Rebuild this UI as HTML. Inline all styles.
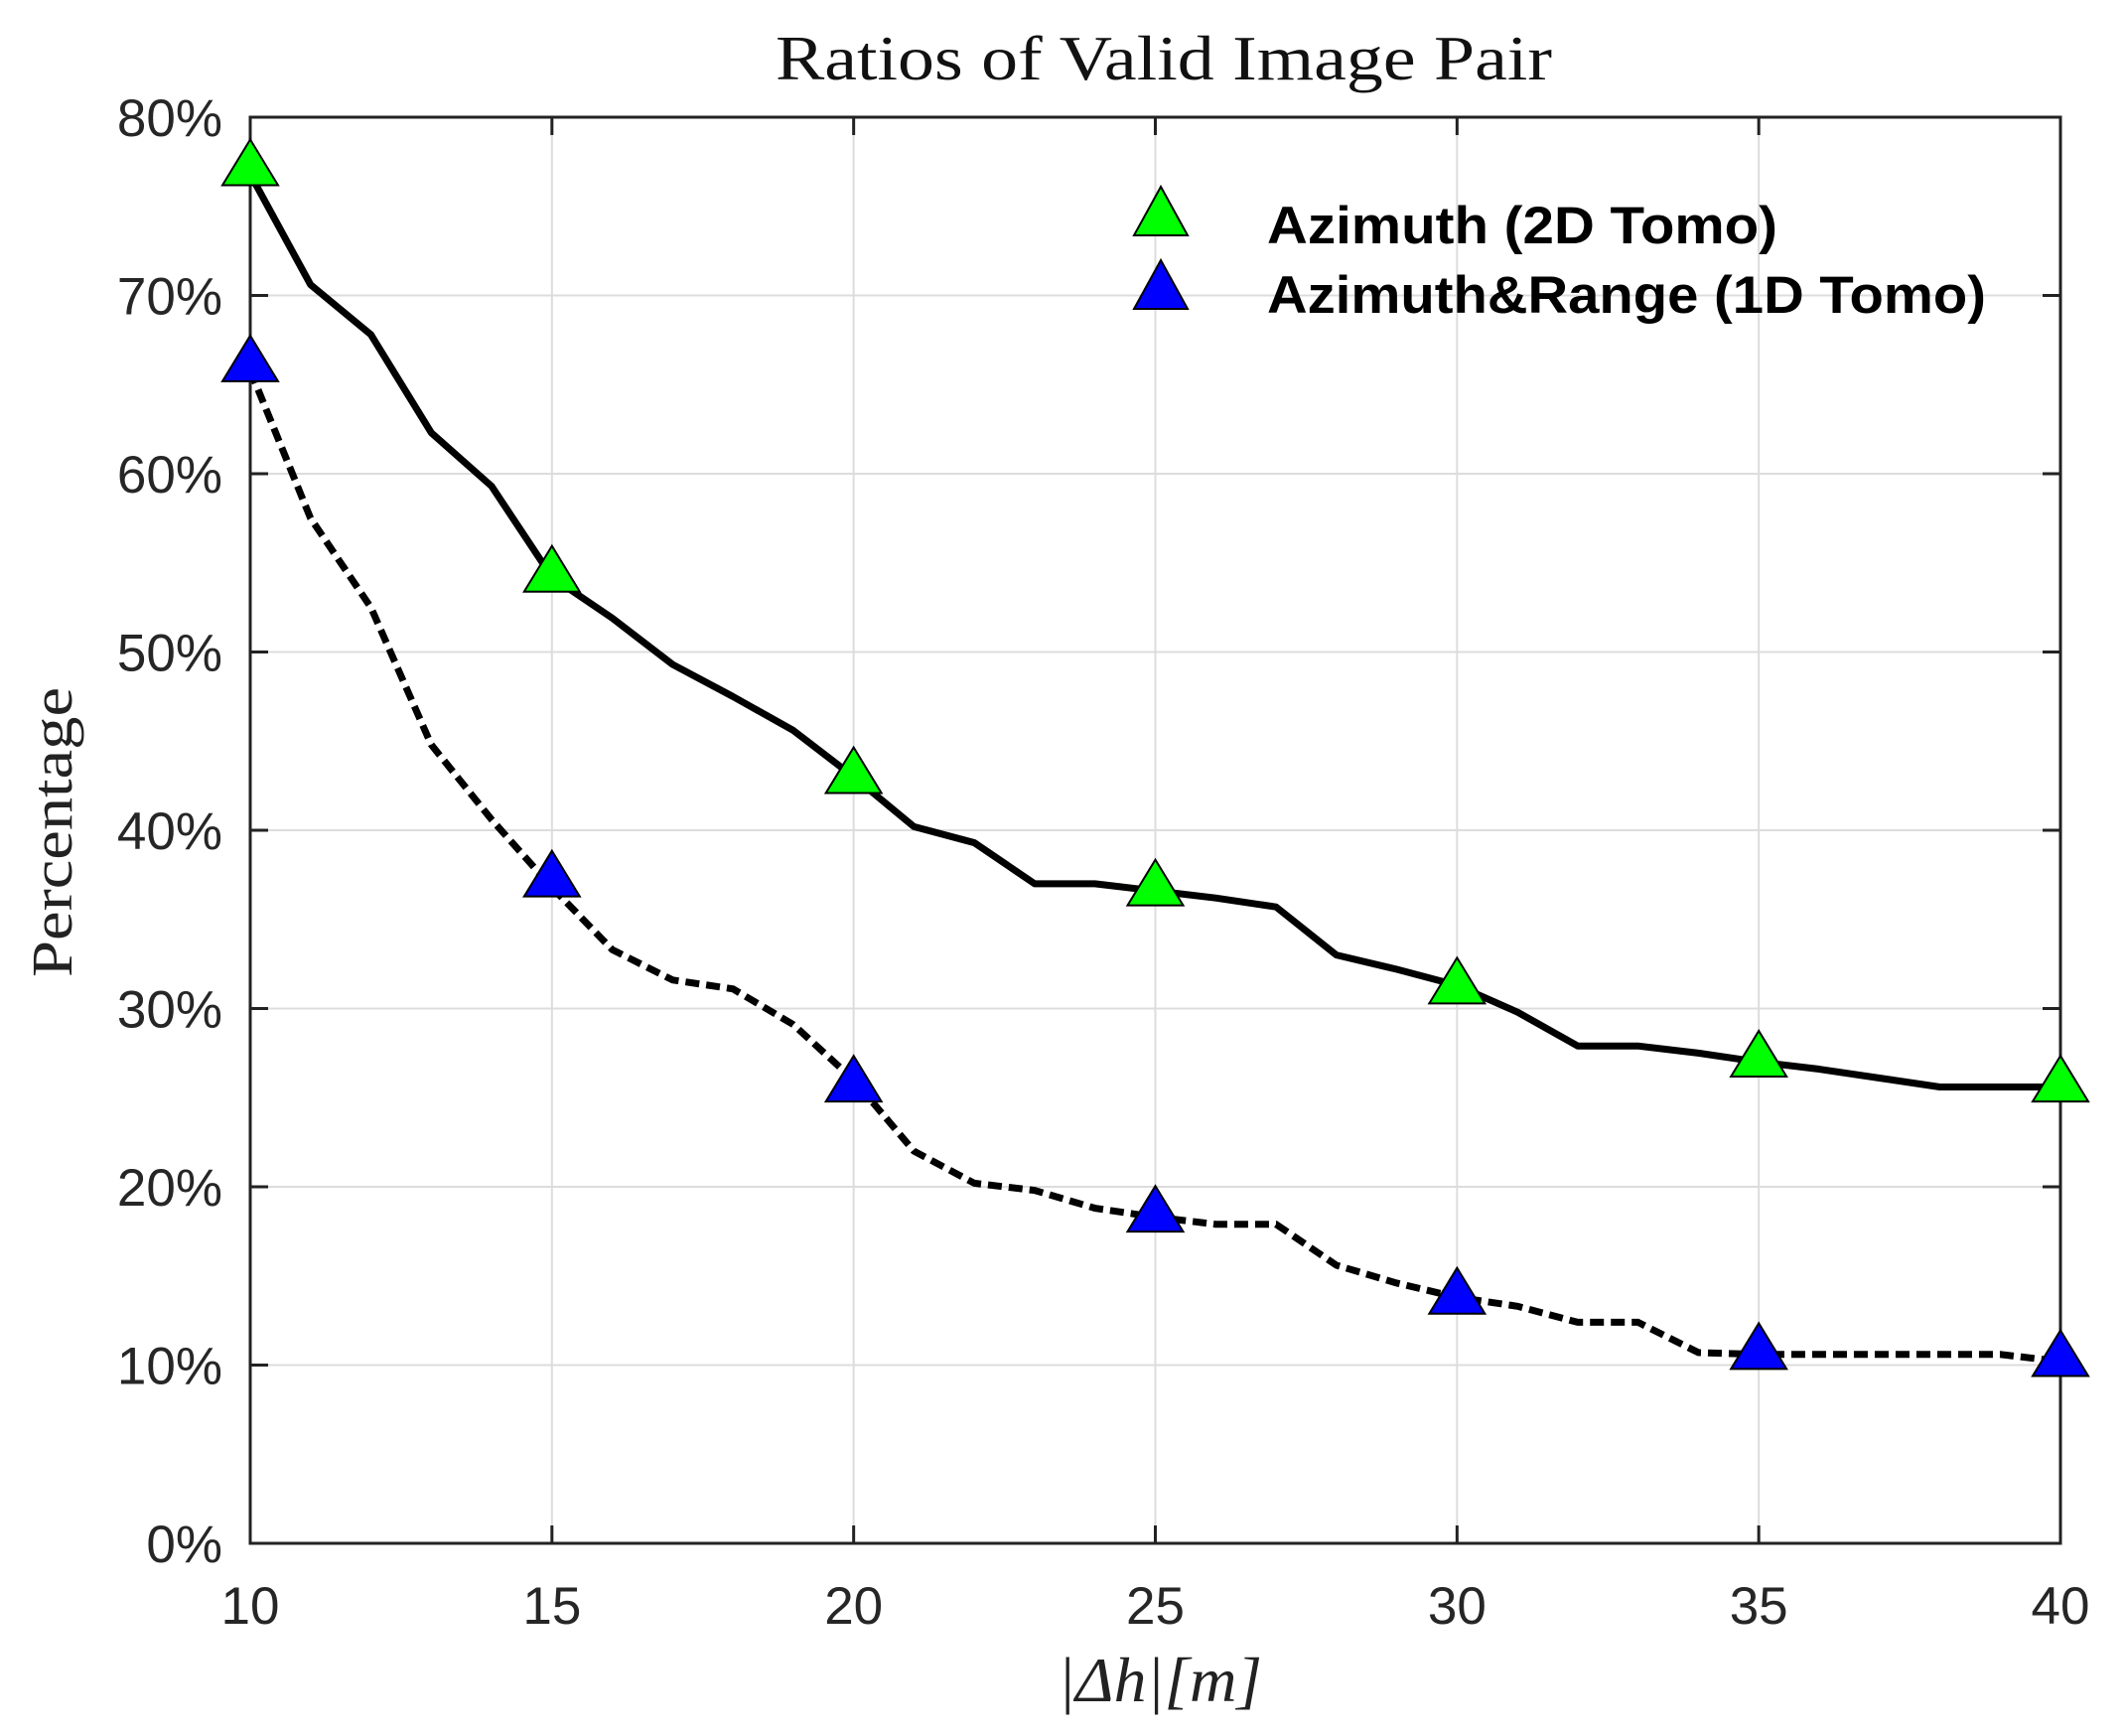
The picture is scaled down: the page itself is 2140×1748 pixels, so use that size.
<!DOCTYPE html>
<html><head><meta charset="utf-8"><style>
html,body{margin:0;padding:0;background:#fff;}
svg{display:block;}
</style></head><body>
<svg id="c" width="2140" height="1748" viewBox="0 0 2140 1748" xmlns="http://www.w3.org/2000/svg">
<rect width="2140" height="1748" fill="#fff"/>
<g id="grid" stroke="#dcdcdc" stroke-width="2"></g>
<g id="ax"></g>
<g id="ser"></g>
<text x="1172" y="80" font-family="Liberation Serif, serif" font-size="64" text-anchor="middle" fill="#111" textLength="782" lengthAdjust="spacingAndGlyphs">Ratios of Valid Image Pair</text>
<text x="1168" y="1713" font-family="Liberation Serif, serif" font-size="64" font-style="italic" text-anchor="middle" fill="#222" textLength="206" lengthAdjust="spacingAndGlyphs">|Δh|[m]</text>
<text transform="translate(72,838) rotate(-90)" font-family="Liberation Serif, serif" font-size="58" text-anchor="middle" fill="#222" textLength="292" lengthAdjust="spacingAndGlyphs">Percentage</text>
<polygon points="1169,188 1142,237 1196,237" fill="#00ff00" stroke="#000" stroke-width="2"/>
<polygon points="1169,262 1142,311 1196,311" fill="#0000ff" stroke="#000" stroke-width="2"/>
<text x="1276" y="245" font-family="Liberation Sans, sans-serif" font-weight="bold" font-size="53" fill="#000" textLength="514" lengthAdjust="spacingAndGlyphs">Azimuth (2D Tomo)</text>
<text x="1276" y="315" font-family="Liberation Sans, sans-serif" font-weight="bold" font-size="53" fill="#000" textLength="724" lengthAdjust="spacingAndGlyphs">Azimuth&amp;Range (1D Tomo)</text>
</svg>
<script>
var X0=252,X1=2075,Y0=1554,Y1=118;
function px(x){return X0+(x-10)*(X1-X0)/30;}
function py(y){return Y0-y*(Y0-Y1)/80;}
var ns="http://www.w3.org/2000/svg";
function el(p,t,a,txt){var e=document.createElementNS(ns,t);for(var k in a)e.setAttribute(k,a[k]);if(txt!=null)e.textContent=txt;p.appendChild(e);return e;}
var g=document.getElementById('grid'),ax=document.getElementById('ax'),s=document.getElementById('ser');
for(var x=15;x<40;x+=5)el(g,'line',{x1:px(x),x2:px(x),y1:Y1,y2:Y0});
for(var y=10;y<80;y+=10)el(g,'line',{x1:X0,x2:X1,y1:py(y),y2:py(y)});
el(ax,'rect',{x:X0,y:Y1,width:X1-X0,height:Y0-Y1,fill:'none',stroke:'#222','stroke-width':3});
for(var x=10;x<=40;x+=5){el(ax,'line',{x1:px(x),x2:px(x),y1:Y0,y2:Y0-18,stroke:'#222','stroke-width':3});el(ax,'line',{x1:px(x),x2:px(x),y1:Y1,y2:Y1+18,stroke:'#222','stroke-width':3});
el(ax,'text',{x:px(x),y:1635,'font-family':'Liberation Sans, sans-serif','font-size':53,'text-anchor':'middle',fill:'#262626'},String(x));}
for(var y=0;y<=80;y+=10){el(ax,'line',{x1:X0,x2:X0+18,y1:py(y),y2:py(y),stroke:'#222','stroke-width':3});el(ax,'line',{x1:X1,x2:X1-18,y1:py(y),y2:py(y),stroke:'#222','stroke-width':3});
el(ax,'text',{x:224,y:py(y)+19,'font-family':'Liberation Sans, sans-serif','font-size':53,'text-anchor':'end',fill:'#262626'},y+'%');}
var A=[76.8,70.6,67.8,62.3,59.3,54.2,51.9,49.3,47.5,45.6,43,40.2,39.3,37,37,36.6,36.2,35.7,33,32.2,31.3,29.8,27.9,27.9,27.5,27,26.6,26.1,25.6,25.6,25.6];
var B=[65.8,57.5,52.5,44.8,40.6,36.8,33.3,31.6,31.1,29.1,26,22,20.2,19.8,18.8,18.3,17.9,17.9,15.6,14.6,13.8,13.3,12.4,12.4,10.7,10.6,10.6,10.6,10.6,10.6,10.2];
function pts(a){return a.map(function(v,i){return px(10+i)+','+py(v);}).join(' ');}
el(s,'polyline',{points:pts(A),fill:'none',stroke:'#000','stroke-width':7,'stroke-linejoin':'round'});
el(s,'polyline',{points:pts(B),fill:'none',stroke:'#000','stroke-width':7,'stroke-dasharray':'14 7'});
var GM=[77.3,54.5,43.2,36.9,31.4,27.3,25.9],BM=[66.3,37.4,25.9,18.6,14.0,10.9,10.5];
function tri(x,y,c){var cx=px(x),cy=py(y);el(s,'polygon',{points:cx+','+(cy-26)+' '+(cx-28)+','+(cy+20)+' '+(cx+28)+','+(cy+20),fill:c,stroke:'#000','stroke-width':2});}
for(var i=0;i<7;i++){tri(10+5*i,GM[i],'#00ff00');tri(10+5*i,BM[i],'#0000ff');}
</script>
</body></html>
